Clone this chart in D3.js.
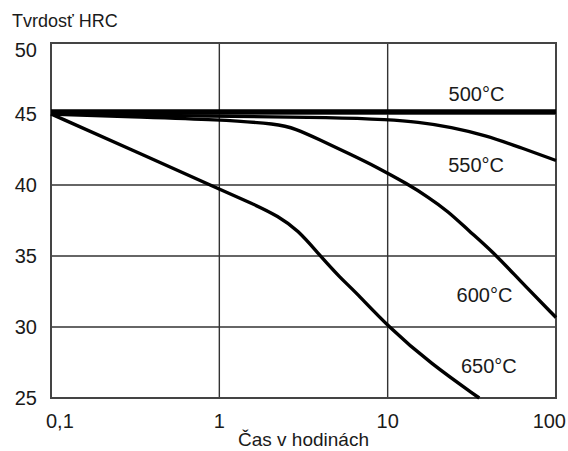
<!DOCTYPE html>
<html><head><meta charset="utf-8">
<script src="https://cdn.jsdelivr.net/npm/d3@7"></script>
<style>
body{margin:0;background:#fff;}
text{font-family:"Liberation Sans",Arial,sans-serif;fill:#1a1a1a;}
</style></head>
<body><svg id="chart" width="568" height="451"></svg>
<script>
const xTicks = [0.1, 1, 10, 100];
const xTickLabels = ["0,1", "1", "10", "100"];
const yTicks = [25, 30, 35, 40, 45, 50];
const series = ["500°C", "550°C", "600°C", "650°C"];
const t500 = [0.1, 100];
const h500 = [45.15, 45.15];
const t550 = [0.1, 1, 5, 10, 15, 23.9, 38, 60.5, 100];
const h550 = [45.0, 44.85, 44.75, 44.6, 44.45, 44.08, 43.5, 42.67, 41.73];
const t600 = [0.1, 0.3, 1, 2.25, 2.82, 3.85, 6.04, 8.66, 13.1, 17.3, 22.8, 30.2, 41.8, 60.5, 100];
const h600 = [45.0, 44.8, 44.6, 44.3, 43.96, 43.25, 42.15, 41.25, 40.07, 39.17, 38.16, 36.8, 35.34, 33.32, 30.67];
const t650 = [0.1, 0.3, 1, 1.57, 2.25, 2.94, 3.85, 5.28, 6.3, 10.1, 18.1, 35];
const h650 = [45.0, 42.5, 39.7, 38.7, 37.8, 36.8, 35.2, 33.4, 32.6, 30.0, 27.4, 25.0];
const labelT = [33.7, 33.5, 37.6, 39.9];
const labelH = [46.4, 41.4, 32.3, 27.3];

const svg = d3.select("#chart");
const m = {l: 51, r: 12, t: 43, b: 53};
const W = 568, H = 451;
const x = d3.scaleLog().domain([0.1, 100]).range([m.l, W - m.r]);
const y = d3.scaleLinear().domain([25, 50]).range([H - m.b, m.t]);

// grid
svg.append("g").selectAll("line").data(xTicks).join("line")
  .attr("x1", d => x(d)).attr("x2", d => x(d)).attr("y1", y(25)).attr("y2", y(50))
  .attr("stroke", "#333").attr("stroke-width", 1.4);
svg.append("g").selectAll("line").data(yTicks).join("line")
  .attr("y1", d => y(d)).attr("y2", d => y(d)).attr("x1", x(0.1)).attr("x2", x(100))
  .attr("stroke", "#333").attr("stroke-width", 1.4);
svg.append("rect").attr("x", x(0.1)).attr("y", y(50))
  .attr("width", x(100) - x(0.1)).attr("height", y(25) - y(50))
  .attr("fill", "none").attr("stroke", "#444").attr("stroke-width", 2);

// y labels
svg.append("g").selectAll("text").data(yTicks).join("text")
  .attr("x", 37).attr("y", d => Math.max(y(d), y(50) + 7)).attr("dy", "0.36em")
  .attr("text-anchor", "end").attr("font-size", 20).text(d => d);
// x labels
svg.append("g").selectAll("text").data(xTicks).join("text")
  .attr("x", d => x(d)).attr("y", 428)
  .attr("text-anchor", (d, i) => i === 0 ? "start" : (i === xTicks.length - 1 ? "end" : "middle"))
  .attr("dx", (d, i) => i === 0 ? -5 : (i === xTicks.length - 1 ? 10 : 0))
  .attr("font-size", 20).text((d, i) => xTickLabels[i]);

svg.append("text").attr("x", 12).attr("y", 27).attr("font-size", 18).text("Tvrdosť HRC");
svg.append("text").attr("x", (x(0.1) + x(100)) / 2).attr("y", 446).attr("text-anchor", "middle")
  .attr("font-size", 19).text("Čas v hodinách");

const line = d3.line().x(d => x(d[0])).y(d => y(d[1])).curve(d3.curveBasis);
const data = [[t500, h500, 5], [t550, h550, 3.3], [t600, h600, 3.4], [t650, h650, 3.4]];
data.forEach(([t, h, w]) => {
  svg.append("path").datum(t.map((v, i) => [v, h[i]])).attr("d", line)
    .attr("fill", "none").attr("stroke", "#000").attr("stroke-width", w)
    .attr("stroke-linejoin", "round").attr("stroke-linecap", "butt");
});

svg.append("g").selectAll("text").data(series).join("text")
  .attr("x", (d, i) => x(labelT[i])).attr("y", (d, i) => y(labelH[i])).attr("dy", "0.36em")
  .attr("text-anchor", "middle").attr("font-size", 20).text(d => d);
</script></body></html>
